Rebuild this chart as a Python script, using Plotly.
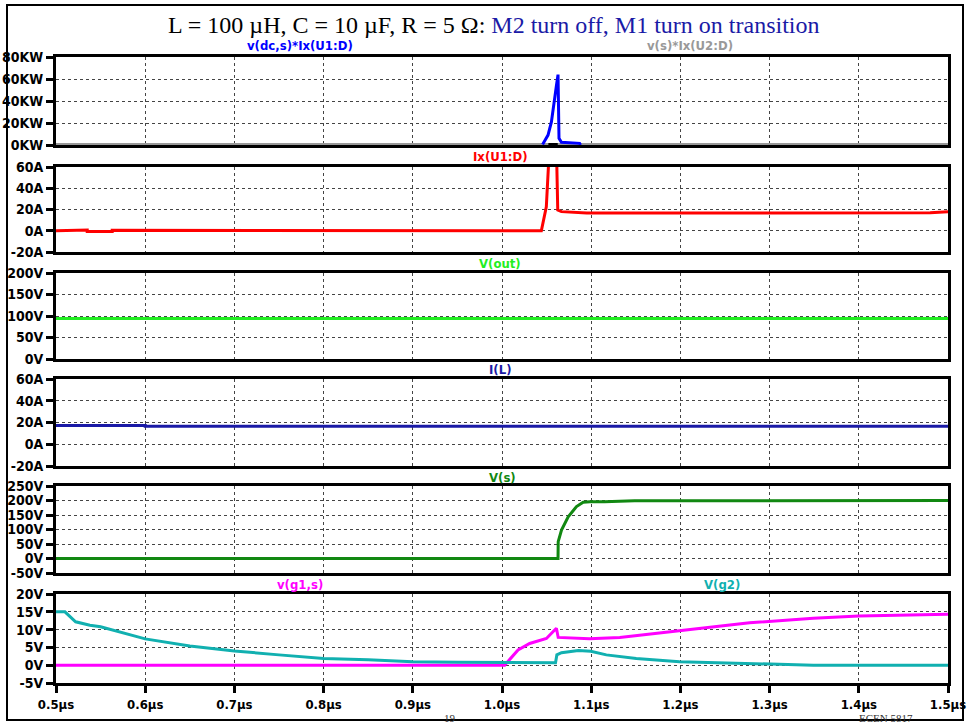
import plotly.graph_objects as go

# ---------------- data (time in microseconds) ----------------
# Panel 1: power
p_u1_t = [1.0455, 1.0516, 1.0554, 1.0583, 1.0610, 1.0628, 1.0639, 1.0666, 1.0870, 1.0880]
p_u1_v = [0.5, 9, 21, 36, 54, 64, 6, 2.4, 1.5, 0]          # KW
p_u2_t = [0.5, 1.5]
p_u2_v = [0, 0]                                             # KW
p_blk_t = [1.052, 1.0625]
p_blk_v = [0, 0]

# Panel 2: Ix(U1:D)
ix_t = [0.5, 0.507, 0.507, 0.535, 0.535, 0.563, 0.563, 0.999, 0.999, 1.0441, 1.0497,
        1.0535, 1.0570, 1.0595, 1.0625, 1.0666, 1.0880, 1.0950, 1.3000, 1.4800, 1.5]
ix_v = [0, 0, 0.6, 0.6, -0.6, -0.6, 0.4, 0.4, -0.2, 0, 22.6,
        60, 140, 140, 19.5, 18, 17.2, 16.8, 16.8, 17.0, 18.0]   # A

# Panel 3: V(out)
vout_t = [0.5, 1.5]
vout_v = [94, 94]   # V

# Panel 4: I(L)
il_t = [0.5, 0.6, 0.6, 1.5]
il_v = [17.3, 17.3, 16.6, 16.6]   # A

# Panel 5: V(s)
vs_t = [0.5, 1.0628, 1.0630, 1.0667, 1.0742, 1.0835, 1.0910, 1.0985, 1.1150, 1.1485, 1.5]
vs_v = [0, 0, 58, 98, 144, 179, 194, 196, 196, 199, 200]   # V

# Panel 6: V(g2), v(g1,s)
vg2_t = [0.5, 0.51, 0.522, 0.538, 0.55, 0.6, 0.65, 0.7, 0.75, 0.8, 0.85, 0.9, 0.95, 1.0,
         1.06, 1.0615, 1.0667, 1.0856, 1.0995, 1.117, 1.1505, 1.199, 1.2776, 1.349, 1.5]
vg2_v = [15, 15, 12.2, 11.2, 10.8, 7.4, 5.4, 4.0, 2.9, 1.9, 1.5, 1.0, 0.8, 0.7,
         0.7, 2.9, 3.5, 4.1, 3.9, 2.9, 1.9, 1.0, 0.5, 0.0, 0.0]
vg1_t = [0.5, 1.003, 1.018, 1.031, 1.0498, 1.061, 1.063, 1.098, 1.132, 1.199, 1.2776, 1.349, 1.4, 1.5]
vg1_v = [0, 0, 4.3, 6.1, 7.5, 10.4, 7.8, 7.4, 7.8, 9.7, 11.9, 13.2, 13.8, 14.3]

# Axis ticks
x_ticks = [0.5, 0.6, 0.7, 0.8, 0.9, 1.0, 1.1, 1.2, 1.3, 1.4, 1.5]
x_ticktext = ["0.5µs", "0.6µs", "0.7µs", "0.8µs", "0.9µs", "1.0µs", "1.1µs", "1.2µs", "1.3µs", "1.4µs", "1.5µs"]
y1_ticks = [0, 20, 40, 60, 80]
y1_text = ["0KW", "20KW", "40KW", "60KW", "80KW"]
y2_ticks = [-20, 0, 20, 40, 60]
y2_text = ["-20A", "0A", "20A", "40A", "60A"]
y3_ticks = [0, 50, 100, 150, 200]
y3_text = ["0V", "50V", "100V", "150V", "200V"]
y4_ticks = [-20, 0, 20, 40, 60]
y4_text = ["-20A", "0A", "20A", "40A", "60A"]
y5_ticks = [-50, 0, 50, 100, 150, 200, 250]
y5_text = ["-50V", "0V", "50V", "100V", "150V", "200V", "250V"]
y6_ticks = [-5, 0, 5, 10, 15, 20]
y6_text = ["-5V", "0V", "5V", "10V", "15V", "20V"]

# ---------------- figure ----------------
W, H = 967, 723
ML, MR, MT, MB = 56, 19, 57, 40
PW, PH = W - ML - MR, H - MT - MB


def py(px):
    return (H - MB - px) / PH


def pxx(px):
    return (px - ML) / PW


domains = [(145, 57), (252, 167), (359, 273), (466, 379), (573, 486), (683, 594)]
yticks = [(y1_ticks, y1_text), (y2_ticks, y2_text), (y3_ticks, y3_text),
          (y4_ticks, y4_text), (y5_ticks, y5_text), (y6_ticks, y6_text)]

NARROW = "DejaVu Sans Condensed, Liberation Sans Narrow, Arial Narrow, Liberation Sans"
YTICKFONT = dict(family=NARROW, size=14, color="black", weight="bold")
XTICKFONT = dict(family=NARROW, size=13, color="black", weight="bold")
GRID = dict(showgrid=True, gridcolor="#444444", gridwidth=1, griddash="3px,3px")

fig = go.Figure()


def add(t, v, color, k, width=3):
    fig.add_trace(go.Scatter(x=t, y=v, mode="lines", line=dict(color=color, width=width),
                             xaxis="x" if k == 1 else f"x{k}", yaxis="y" if k == 1 else f"y{k}",
                             showlegend=False, hoverinfo="skip"))


add(p_u2_t, p_u2_v, "#999999", 1, 4)
add(p_blk_t, p_blk_v, "#000000", 1, 4)
add(p_u1_t, p_u1_v, "#0000ff", 1)
add(ix_t, ix_v, "#ff0000", 2)
add(vout_t, vout_v, "#22ee22", 3)
add(il_t, il_v, "#1a1aa6", 4)
add(vs_t, vs_v, "#118811", 5)
add(vg1_t, vg1_v, "#ff00ff", 6)
add(vg2_t, vg2_v, "#11b0b0", 6)

layout = dict(width=W, height=H, margin=dict(l=ML, r=MR, t=MT, b=MB, autoexpand=False),
              paper_bgcolor="white", plot_bgcolor="white", showlegend=False)

yranges = [(0, 80), (-20, 60), (0, 200), (-20, 60), (-50, 250), (-5, 20)]
for i in range(6):
    k = i + 1
    xs = "xaxis" if k == 1 else f"xaxis{k}"
    ys = "yaxis" if k == 1 else f"yaxis{k}"
    bottom = (k == 6)
    layout[xs] = dict(domain=[0, 1], anchor="y" if k == 1 else f"y{k}", range=[0.5, 1.5],
                      tickvals=x_ticks, ticktext=x_ticktext, showticklabels=bottom,
                      ticks="outside" if bottom else "", ticklen=7, tickwidth=3, tickcolor="black",
                      tickfont=XTICKFONT, showline=True, linecolor="black", linewidth=3,
                      mirror=True, zeroline=False, automargin=False,
                      layer="below traces" if k == 1 else "above traces", **GRID)
    if k != 1:
        layout[xs]["matches"] = "x"
    lo, hi = domains[i]
    tv, tt = yticks[i]
    layout[ys] = dict(domain=[py(lo), py(hi)], anchor="x" if k == 1 else f"x{k}",
                      range=list(yranges[i]), tickvals=tv, ticktext=tt, ticks="outside",
                      ticklen=7, tickwidth=3, tickcolor="black", tickfont=YTICKFONT,
                      showline=True, linecolor="black", linewidth=3, mirror=True,
                      zeroline=False, automargin=False,
                      layer="below traces" if k == 1 else "above traces", **GRID)

LBL = dict(family=NARROW, size=13, weight="bold")
labels = [
    ("v(dc,s)*Ix(U1:D)", 300, 46, "#0000ff"),
    ("v(s)*Ix(U2:D)", 690, 46, "#999999"),
    ("Ix(U1:D)", 500, 157, "#ff0000"),
    ("V(out)", 500, 263, "#22ee22"),
    ("I(L)", 500, 369, "#1a1aa6"),
    ("V(s)", 503, 477, "#118811"),
    ("v(g1,s)", 300, 584, "#ff00ff"),
    ("V(g2)", 722, 584, "#11b0b0"),
]
ann = []
for text, x, y, c in labels:
    ann.append(dict(text=text, x=pxx(x), y=py(y), xref="paper", yref="paper", showarrow=False,
                    xanchor="center", yanchor="middle", font=dict(LBL, color=c)))

ann.append(dict(text="L = 100 µH, C = 10 µF, R = 5 Ω: <span style='color:#1a1aa6'>M2 turn off, M1 turn on transition</span>",
                x=pxx(494), y=py(25), xref="paper", yref="paper", showarrow=False,
                xanchor="center", yanchor="middle",
                font=dict(family="Liberation Serif, Times New Roman, serif", size=24, color="black")))
ann.append(dict(text="19", x=pxx(450), y=py(718), xref="paper", yref="paper", showarrow=False,
                xanchor="center", yanchor="middle",
                font=dict(family="Liberation Serif, serif", size=11, color="#333333")))
ann.append(dict(text="ECEN 5817", x=pxx(886), y=py(718), xref="paper", yref="paper", showarrow=False,
                xanchor="center", yanchor="middle",
                font=dict(family="Liberation Serif, serif", size=11, color="#333333")))
layout["annotations"] = ann

layout["shapes"] = [dict(type="rect", xref="paper", yref="paper",
                         x0=pxx(7), x1=pxx(963), y0=py(720), y1=py(5),
                         line=dict(color="black", width=2), fillcolor="rgba(0,0,0,0)", layer="below")]

fig.update_layout(**layout)
fig.write_html("out.html")
